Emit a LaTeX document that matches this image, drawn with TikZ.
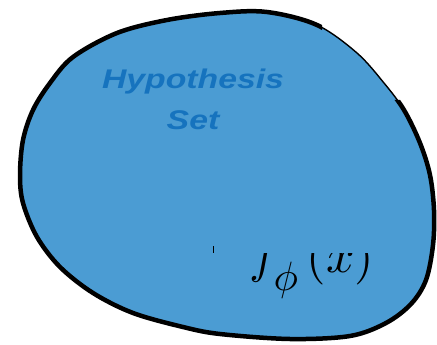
\documentclass[tikz,border=0pt]{standalone}
\usepackage{fontspec}
\newfontfamily\hypfont{Liberation Sans}
\usetikzlibrary{positioning}

\definecolor{setblue}{HTML}{4B9CD3}
\definecolor{labelblue}{HTML}{1673BE}

\newcommand\blobline{plot[smooth cycle, tension=0.55] coordinates {
    (220,13) (267,12) (317,25) (357,53) (384,83) (404,110) (420,143)
    (430,175) (434,210) (433,245) (426,280) (411,304) (386,323)
    (350,336) (290,339) (220,334) (183,327) (133,313) (93,293)
    (60,267) (37,237) (23,203) (20,175) (23,140) (33,110) (50,83)
    (73,57) (117,33) (167,20)}}

\begin{document}
\begin{tikzpicture}[x=1pt, y=-1pt,
    setlabel/.style={text=labelblue, inner sep=0pt,
        font=\hypfont\bfseries\itshape\fontsize{27}{32}\selectfont},
    formula/.style={inner sep=0pt}]

            \useasboundingbox[fill=white] (0,0) rectangle (437,345);

            \fill[setblue, draw=black, line width=1.4pt] \blobline;
            \begin{scope}
                \clip (-10,-10) -- (322,-10) -- (322,100) -- (450,100)
                    -- (450,360) -- (-10,360) -- cycle;
                \draw[line width=4.5pt] \blobline;
            \end{scope}

            \node[setlabel, anchor=base] (hyp) at (193,89) {\scalebox{1.25}[1]{Hypothesis}};
            \node[setlabel, anchor=base] (set) at (193,130) {\scalebox{1.25}[1]{Set}};

            \begin{scope}
                \clip (240,253) rectangle (400,310);
                \node[formula, anchor=base west] (fx) at (249,272)
                    {\scalebox{5}{$f_{\smash{\raisebox{-2.1pt}{\scalebox{0.82}{$\phi$}}}}\kern1.2pt(x)$}};
            \end{scope}

            \draw[line width=1pt] (213,246) -- (213,253);

\end{tikzpicture}
\end{document}
